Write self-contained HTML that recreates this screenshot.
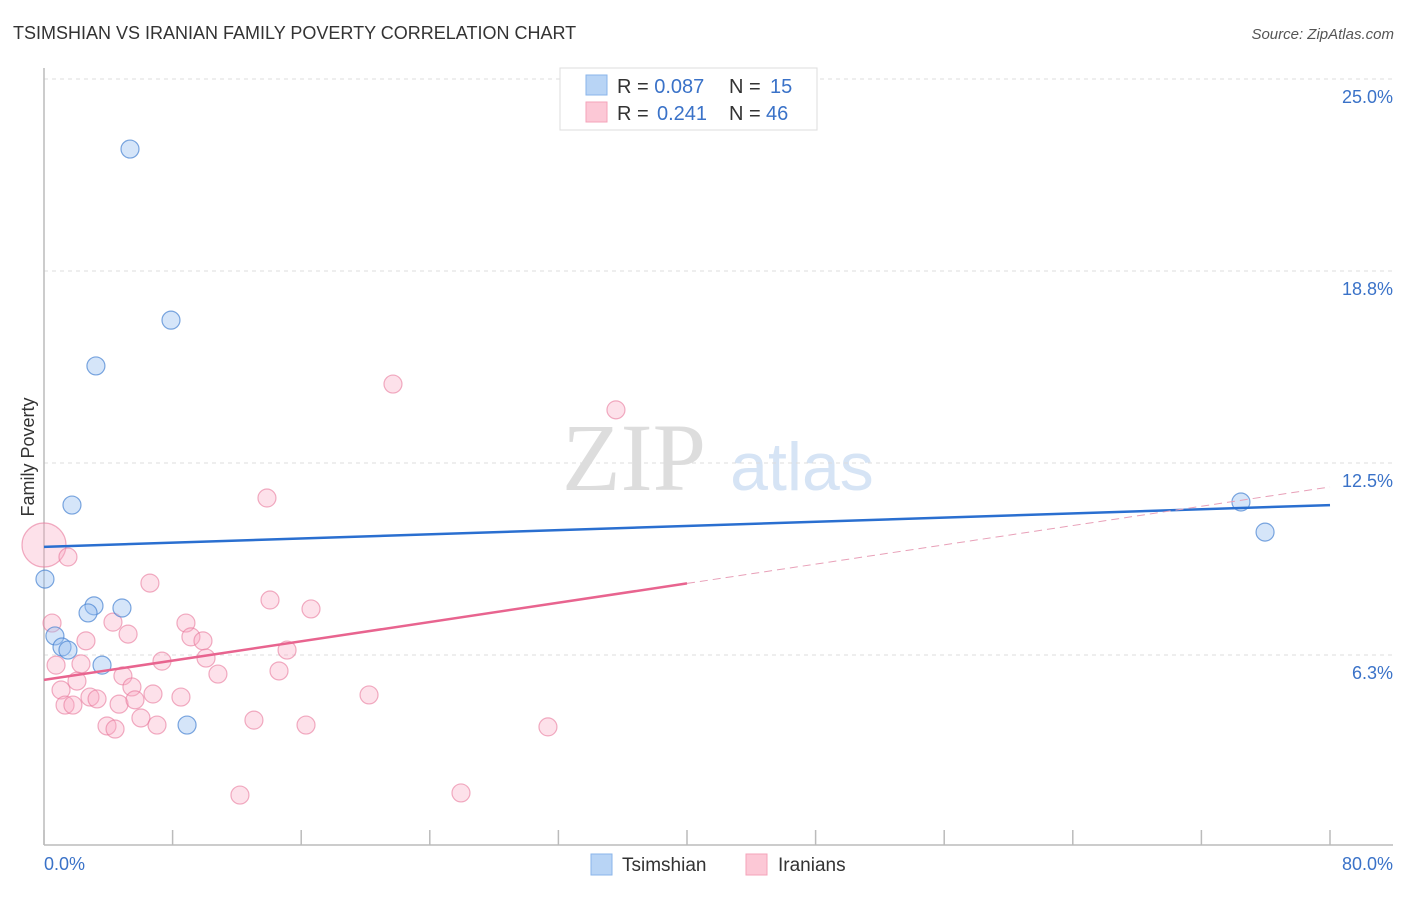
<!DOCTYPE html>
<html><head><meta charset="utf-8"><style>
body{margin:0;background:#fff;font-family:"Liberation Sans",sans-serif;}
</style></head><body>
<svg width="1406" height="892" xmlns="http://www.w3.org/2000/svg" font-family="Liberation Sans, sans-serif">
<text x="13" y="39" font-size="18" fill="#333">TSIMSHIAN VS IRANIAN FAMILY POVERTY CORRELATION CHART</text>
<text x="1394" y="39" font-size="15" fill="#555" text-anchor="end" font-style="italic">Source: ZipAtlas.com</text>
<text x="634" y="490" font-size="96" fill="#ddd" text-anchor="middle" font-family="Liberation Serif, serif">ZIP</text>
<text x="802" y="490" font-size="68" fill="#d6e4f5" text-anchor="middle">atlas</text>
<g id="grid"></g>
<g id="axes"></g>
<g id="pts"></g>
<g id="lines"></g>
<text transform="translate(34,457) rotate(-90)" font-size="18" fill="#333" text-anchor="middle">Family Poverty</text>
<g>
<rect x="560" y="68" width="257" height="62" fill="#fff" stroke="#ddd"/>
<rect x="586" y="75" width="21" height="20" fill="#b8d4f5" stroke="#8ab4ea"/>
<rect x="586" y="102" width="21" height="20" fill="#fcc8d6" stroke="#f4a3ba"/>
<text x="617" y="93" font-size="20" fill="#333">R = <tspan fill="#3a72c8">0.087</tspan><tspan x="729">N = </tspan><tspan x="770" fill="#3a72c8">15</tspan></text>
<text x="617" y="120" font-size="20" fill="#333">R = <tspan x="657" fill="#3a72c8">0.241</tspan><tspan x="729">N = </tspan><tspan x="766" fill="#3a72c8">46</tspan></text>
</g>
<g>
<rect x="591" y="854" width="21" height="21" fill="#b8d4f5" stroke="#8ab4ea"/>
<text x="622" y="871" font-size="19" fill="#333">Tsimshian</text>
<rect x="746" y="854" width="21" height="21" fill="#fcc8d6" stroke="#f4a3ba"/>
<text x="778" y="871" font-size="19" fill="#333">Iranians</text>
</g>
</svg>
<script>
const yTicks=[6.25,12.5,18.75,25];
const yTickLabels=["6.3%","12.5%","18.8%","25.0%"];
const xTickLabels=["0.0%","80.0%"];
const blueX=[5.35,7.9,3.23,1.74,0.06,3.11,2.74,4.85,0.68,1.12,1.49,3.61,8.9,74.46,75.96];
const blueY=[22.72,17.15,15.66,11.13,8.72,7.85,7.62,7.78,6.87,6.51,6.41,5.92,3.97,11.23,10.25];
const pinkX=[0,1.49,6.59,0.5,4.29,2.61,5.23,8.83,9.14,9.89,10.08,7.34,0.75,2.3,4.91,2.05,5.47,6.78,1.06,2.86,3.3,1.31,1.8,4.67,5.66,8.52,10.82,6.03,7.03,3.92,4.42,13.87,14.06,16.61,15.12,14.62,13.06,16.3,12.19,21.71,20.22,35.58,31.35,25.94];
const pinkY=[9.83,9.44,8.59,7.29,7.32,6.71,6.93,7.29,6.84,6.71,6.15,6.05,5.92,5.96,5.57,5.4,5.21,4.98,5.11,4.88,4.82,4.62,4.62,4.65,4.79,4.88,5.63,4.2,3.97,3.94,3.84,11.36,8.04,7.75,6.41,5.73,4.13,3.97,1.69,15.07,4.95,14.23,3.91,1.76];
const blueTrend=[9.77,11.13];
const pinkTrend=[5.44,11.72];
const NS="http://www.w3.org/2000/svg";
const X=v=>44+v*1286/80, Y=v=>847-v*30.72;
function mk(t,a,p){const e=document.createElementNS(NS,t);for(const k in a)e.setAttribute(k,a[k]);document.getElementById(p).appendChild(e);return e;}
yTicks.forEach((t,i)=>{
 const l=mk('line',{x1:44,x2:1393,y1:Y(t),y2:Y(t),stroke:'#ddd','stroke-dasharray':'4,4'},'grid');
 
 
 const tx=mk('text',{x:1393,y:Y(t)+24,'font-size':18,fill:'#3a72c8','text-anchor':'end'},'grid');
 tx.textContent=yTickLabels[i];
 
 
});
let a=mk('line',{x1:44,x2:44,y1:68,y2:845,stroke:'#bbb','stroke-width':1.5},'axes');


a=mk('line',{x1:44,x2:1393,y1:845,y2:845,stroke:'#bbb','stroke-width':1.5},'axes');


for(let i=0;i<=10;i++){const t=mk('line',{x1:X(i*8),x2:X(i*8),y1:830,y2:845,stroke:'#bbb','stroke-width':1.5},'axes');
 
 }
[[0,'start',44],[80,'end',1393]].forEach((d,i)=>{const t=mk('text',{x:d[2],y:870,'font-size':18,fill:'#3a72c8','text-anchor':d[1]},'axes');t.textContent=xTickLabels[i];
 
 });
pinkX.forEach((x,i)=>{const c=mk('circle',{cx:X(x),cy:Y(pinkY[i]),r:i==0?22:9,fill:'rgba(248,170,195,0.35)',stroke:'rgba(232,120,155,0.6)','stroke-width':1.2},'pts');
 
 });
blueX.forEach((x,i)=>{const c=mk('circle',{cx:X(x),cy:Y(blueY[i]),r:9,fill:'rgba(150,190,240,0.4)',stroke:'rgba(70,130,210,0.7)','stroke-width':1.2},'pts');
 
 });
let l=mk('line',{x1:X(0),y1:Y(blueTrend[0]),x2:X(80),y2:Y(blueTrend[1]),stroke:'#2a6fd0','stroke-width':2.5},'lines');


const pm=(pinkTrend[0]+pinkTrend[1])/2;
l=mk('line',{x1:X(0),y1:Y(pinkTrend[0]),x2:X(40),y2:Y(pm),stroke:'#e8648f','stroke-width':2.5},'lines');


l=mk('line',{x1:X(40),y1:Y(pm),x2:X(80),y2:Y(pinkTrend[1]),stroke:'#e8a0b8','stroke-width':1,'stroke-dasharray':'8,5'},'lines');


</script>
</body></html>
